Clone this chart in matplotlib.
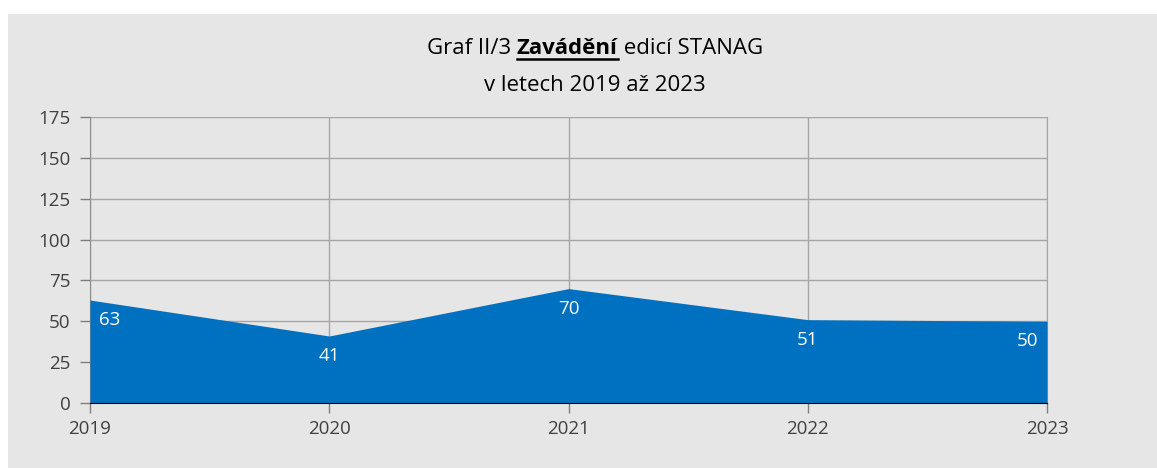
import matplotlib.pyplot as plt
from matplotlib.patches import Rectangle
from matplotlib.lines import Line2D

years = [2019, 2020, 2021, 2022, 2023]
values = [63, 41, 70, 51, 50]
y_ticks = [0, 25, 50, 75, 100, 125, 150, 175]

plt.rcParams['font.family'] = ['Open Sans', 'DejaVu Sans']

fig = plt.figure(figsize=(11.57, 4.68), dpi=100)
fig.patch.set_facecolor('white')
fig.patches.append(Rectangle((8 / 1157, 0), 1, (468 - 14) / 468, transform=fig.transFigure,
                             facecolor='#e6e6e6', edgecolor='none', zorder=-10))

ax = fig.add_axes([90 / 1157, 65 / 468, 957 / 1157, 286 / 468])
ax.set_facecolor('none')
ax.fill_between(years, values, 0, color='#0070c0', linewidth=0, zorder=3)

ax.set_xlim(2019, 2023)
ax.set_ylim(0, 175)
ax.set_xticks(years)
ax.set_yticks(y_ticks)
ax.grid(True, color='#a6a6a6', linewidth=1, zorder=0)
ax.tick_params(axis='both', colors='#7f7f7f', labelcolor='#404040', labelsize=13.5, length=7, width=1)
ax.tick_params(axis='x', pad=5)
ax.tick_params(axis='y', pad=7)
ax.spines['top'].set_visible(False)
ax.spines['right'].set_color('#a6a6a6')
ax.spines['right'].set_zorder(2)
ax.spines['left'].set_color('#8c8c8c')
ax.spines['bottom'].set_color('black')
ax.spines['bottom'].set_zorder(4)

# data labels inside the area
for i, (x, v) in enumerate(zip(years, values)):
    ha = 'center'
    dx = 0
    if i == 0:
        ha, dx = 'left', 9
    elif i == len(years) - 1:
        ha, dx = 'right', -9
    ax.annotate(str(v), (x, v), xytext=(dx, -20), textcoords='offset pixels',
                ha=ha, va='center', color='white', fontsize=13.5, zorder=5)

# title with bold underlined word
parts = [("Graf II/3 ", 'normal'), ("Zavádění", 'bold'), (" edicí STANAG", 'normal')]
fig.canvas.draw()
r = fig.canvas.get_renderer()
texts = []
widths = []
for s, w in parts:
    t = fig.text(0, 0, s, fontsize=16, fontweight=w, color='black', va='baseline', ha='left')
    texts.append(t)
    widths.append(t.get_window_extent(r).width)
total = sum(widths)
cx = 595
base = 468 - 54
x0 = cx - total / 2
for t, wd in zip(texts, widths):
    t.set_position((x0 / 1157, base / 468))
    x0 += wd
ux0 = (cx - total / 2 + widths[0]) / 1157
ux1 = (cx - total / 2 + widths[0] + widths[1]) / 1157
fig.lines.append(Line2D([ux0, ux1], [(base - 5) / 468] * 2, transform=fig.transFigure,
                        color='black', linewidth=1.8))
fig.text(cx / 1157, (468 - 91) / 468, "v letech 2019 až 2023", fontsize=16,
         ha='center', va='baseline', color='black')

fig.savefig('out.png', dpi=100)
